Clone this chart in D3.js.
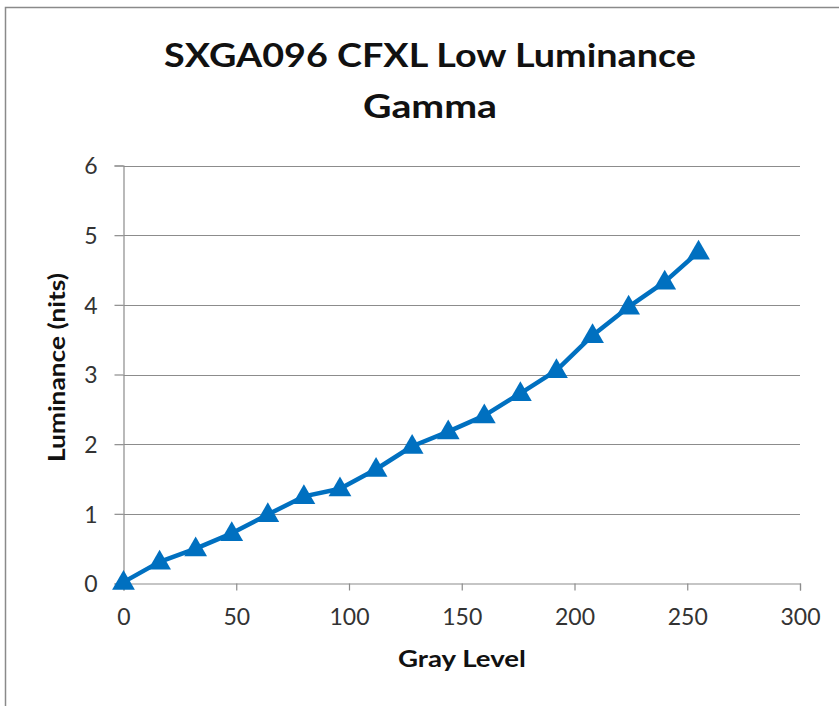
<!DOCTYPE html>
<html>
<head>
<meta charset="utf-8">
<script src="https://cdn.jsdelivr.net/npm/d3@7"></script>
<style>
  body { margin: 0; background: #fff; }
  svg text { font-family: Lato, "Open Sans", sans-serif; }
</style>
</head>
<body>
<svg id="chart" width="839" height="706"></svg>
<script>
// gray level vs measured luminance
var grayLevels = [0, 16, 32, 48, 64, 80, 96, 112, 128, 144, 160, 176, 192, 208, 224, 240, 255];
var luminance  = [0.02, 0.31, 0.50, 0.72, 0.99, 1.25, 1.36, 1.64, 1.97, 2.18, 2.41, 2.73, 3.06, 3.56, 3.97, 4.33, 4.76];
var xTicks = [0, 50, 100, 150, 200, 250, 300];
var yTicks = [0, 1, 2, 3, 4, 5, 6];
var titleLines = ["SXGA096 CFXL Low Luminance", "Gamma"];

(function() {
  var svg = d3.select("#chart");
  var m = { left: 123.5, right: 800, top: 165.5, bottom: 583.5 };
  var gridColor = "#8c8c8c";
  var blue = "#0070c0";

  // outer chart frame (only top and left edges show in the crop)
  svg.append("path")
      .attr("d", "M5.5,706 L5.5,7.5 L839,7.5")
      .attr("fill", "none")
      .attr("stroke", "#8a8a8a")
      .attr("stroke-width", 1.5);

  var x = d3.scaleLinear().domain([0, 300]).range([m.left, m.right]);
  var y = d3.scaleLinear().domain([0, 6]).range([m.bottom, m.top]);

  // horizontal gridlines
  svg.append("g").selectAll("line")
      .data(yTicks.slice(1))
      .enter().append("line")
      .attr("x1", m.left).attr("x2", m.right)
      .attr("y1", function(d) { return Math.round(y(d)) + 0.5; })
      .attr("y2", function(d) { return Math.round(y(d)) + 0.5; })
      .attr("stroke", gridColor)
      .attr("stroke-width", 1.2);

  var xAxis = svg.append("g")
      .attr("transform", "translate(0," + m.bottom + ")")
      .call(d3.axisBottom(x).tickValues(xTicks).tickSize(7).tickPadding(13).tickFormat(d3.format("d")));

  var yAxis = svg.append("g")
      .attr("transform", "translate(" + m.left + ",0)")
      .call(d3.axisLeft(y).tickValues(yTicks).tickSize(9).tickPadding(17).tickFormat(d3.format("d")));

  [xAxis, yAxis].forEach(function(g) {
    g.select(".domain").attr("stroke", gridColor).attr("stroke-width", 1.2);
    g.selectAll(".tick line").attr("stroke", gridColor).attr("stroke-width", 1.2);
    g.selectAll(".tick text")
        .attr("fill", "#333")
        .style("font-size", "23px")
        .style("font-family", "Lato, 'Open Sans', sans-serif");
  });
  yAxis.selectAll(".tick text").attr("dy", "0.36em");
  xAxis.selectAll(".tick text").attr("dy", "0.95em");

  // series line
  var line = d3.line()
      .x(function(d, i) { return x(grayLevels[i]); })
      .y(function(d) { return y(d); });

  svg.append("path")
      .datum(luminance)
      .attr("d", line)
      .attr("fill", "none")
      .attr("stroke", blue)
      .attr("stroke-width", 4.5)
      .attr("stroke-linejoin", "round");

  // triangle markers
  var tri = d3.symbol().type(d3.symbolTriangle).size(225);
  svg.append("g").selectAll("path")
      .data(luminance)
      .enter().append("path")
      .attr("d", tri)
      .attr("transform", function(d, i) { return "translate(" + x(grayLevels[i]) + "," + (y(d) + 1) + ")"; })
      .attr("fill", blue);

  // title
  var titleWidths = [532, 134];
  svg.append("g").selectAll("text")
      .data(titleLines)
      .enter().append("text")
      .attr("x", 430)
      .attr("y", function(d, i) { return 67 + i * 51; })
      .attr("text-anchor", "middle")
      .attr("textLength", function(d, i) { return titleWidths[i]; })
      .attr("lengthAdjust", "spacingAndGlyphs")
      .style("font-size", "33px")
      .style("font-weight", "bold")
      .attr("fill", "#111")
      .text(function(d) { return d; });

  // axis titles
  svg.append("text")
      .attr("x", 462).attr("y", 667)
      .attr("text-anchor", "middle")
      .attr("textLength", 128)
      .attr("lengthAdjust", "spacingAndGlyphs")
      .style("font-size", "22px")
      .style("font-weight", "bold")
      .attr("fill", "#111")
      .text("Gray Level");

  svg.append("text")
      .attr("transform", "translate(65,367.5) rotate(-90)")
      .attr("text-anchor", "middle")
      .attr("textLength", 189)
      .attr("lengthAdjust", "spacingAndGlyphs")
      .style("font-size", "22px")
      .style("font-weight", "bold")
      .attr("fill", "#111")
      .text("Luminance (nits)");
})();
</script>
</body>
</html>
